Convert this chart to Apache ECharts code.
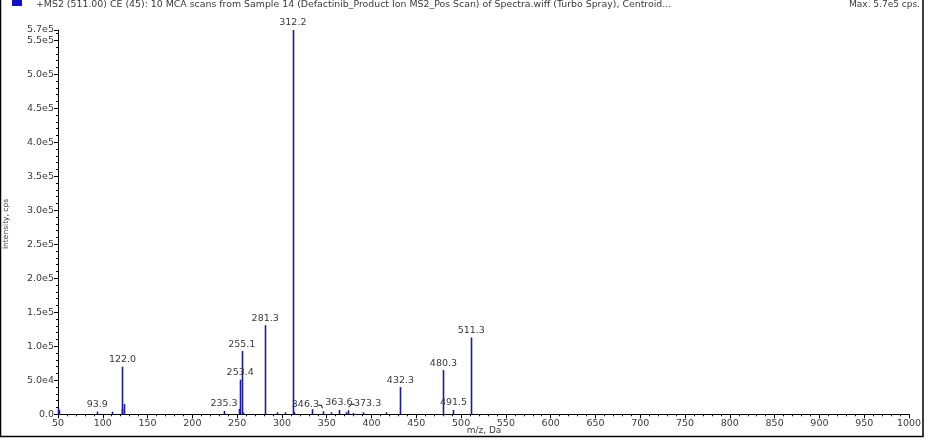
<!DOCTYPE html>
<html>
<head>
<meta charset="utf-8">
<script src="https://cdn.jsdelivr.net/npm/echarts@6/dist/echarts.min.js"></script>
<style>
html,body{margin:0;padding:0;background:#fff;}
#c{width:940px;height:448px;}
</style>
</head>
<body>
<div id="c"></div>
<script>
// ---- data ----
const titleText = '+MS2 (511.00) CE (45): 10 MCA scans from Sample 14 (Defactinib_Product Ion MS2_Pos Scan) of Spectra.wiff (Turbo Spray), Centroid...';
const maxText = 'Max. 5.7e5 cps.';
const xName = 'm/z, Da';
const yName = 'Intensity, cps';
const xMin = 50, xMax = 1000, xStep = 50;
const yMin = 0, yMax = 565000, yStep = 50000;

// peak m/z and intensity (cps)
const peakMz = [50.5, 51.5, 93.9, 110.0, 121.0, 122.0, 123.7, 235.3, 251.5, 253.4, 255.1, 256.8,
  281.3, 294.0, 303.5, 312.2, 314.0, 333.2, 346.3, 354.8, 363.6, 371.5, 373.3, 379.0, 390.0,
  416.2, 432.3, 480.3, 491.5, 511.3];
const peakInt = [9000, 6000, 4000, 4000, 8000, 70000, 15000, 5000, 8000, 51000, 93000, 2500,
  131000, 3000, 3000, 565000, 3000, 7500, 4500, 3000, 6500, 3000, 6000, 2000, 3000,
  3000, 40000, 65000, 6500, 113000];

// labelled peaks
const labelMz = [93.9, 122.0, 235.3, 253.4, 255.1, 281.3, 312.2, 346.3, 363.6, 373.3, 432.3, 480.3, 491.5, 511.3];

// ---- style / layout (not data) ----
const labelShift = {'346.3': -18, '373.3': 20};
const barColor = '#1a1aa6';
const textColor = '#3a3a3a';
const fontFam = '"DejaVu Sans", Verdana, sans-serif';

const peakData = peakMz.map((m, i) => [m, peakInt[i]]);
const labelData = labelMz.map(m => [m, peakInt[peakMz.indexOf(m)]]);

function fmtY(v) {
  if (v === 0) return '0.0';
  return v.toExponential(1).replace('+', '');
}

const chart = echarts.init(document.getElementById('c'), null, {renderer: 'canvas'});
chart.setOption({
  animation: false,
  backgroundColor: '#fff',
  grid: {left: 58, right: 31, top: 30, bottom: 33.7, containLabel: false},
  xAxis: {
    type: 'value', min: xMin, max: xMax, interval: xStep,
    axisLine: {show: true, onZero: false, lineStyle: {color: '#000', width: 1}},
    axisTick: {show: true, length: 4, lineStyle: {color: '#000'}},
    minorTick: {show: true, splitNumber: 5, length: 2, lineStyle: {color: '#000'}},
    splitLine: {show: false},
    axisLabel: {color: textColor, fontSize: 9.5, fontFamily: fontFam, margin: 4, formatter: v => String(v)}
  },
  yAxis: {
    type: 'value', min: yMin, max: yMax, interval: yStep,
    axisLine: {show: true, lineStyle: {color: '#000', width: 1}},
    axisTick: {show: true, length: 4, lineStyle: {color: '#000'}},
    minorTick: {show: true, splitNumber: 5, length: 2, lineStyle: {color: '#000'}},
    splitLine: {show: false},
    axisLabel: {color: textColor, fontSize: 9.5, fontFamily: fontFam, margin: 4, formatter: fmtY}
  },
  series: [
    {
      type: 'custom',
      data: peakData,
      renderItem: function (params, api) {
        const x = api.value(0), y = api.value(1);
        const p0 = api.coord([x, 0]);
        const p1 = api.coord([x, y]);
        const px = Math.round(p0[0]) + 0.5;
        return {
          type: 'line',
          shape: {x1: px, y1: p0[1], x2: px, y2: p1[1]},
          style: {stroke: barColor, lineWidth: 1.6}
        };
      }
    },
    {
      type: 'custom',
      data: labelData,
      renderItem: function (params, api) {
        const x = api.value(0), y = api.value(1);
        const txt = labelMz[params.dataIndex].toFixed(1);
        const p = api.coord([x, y]);
        const dx = labelShift[txt] || 0;
        const children = [{
          type: 'text',
          x: p[0] + dx, y: p[1] - 2,
          style: {text: txt, fill: textColor, fontSize: 9.5, fontFamily: fontFam,
                  align: 'center', verticalAlign: 'bottom'}
        }];
        if (dx !== 0) {
          const edge = p[0] + dx + (dx < 0 ? 13 : -13);
          children.push({
            type: 'polyline',
            shape: {points: [[edge, p[1] - 6], [edge + (dx < 0 ? 3 : -3), p[1] - 6], [p[0] + (dx < 0 ? -1 : 1), p[1] - 3]]},
            style: {stroke: '#000', lineWidth: 1, fill: null}
          });
        }
        return {type: 'group', children: children};
      }
    }
  ],
  graphic: [
    {type: 'rect', shape: {x: 0.5, y: -2, width: 922.5, height: 438.5},
     style: {fill: null, stroke: '#000', lineWidth: 1.5}, silent: true},
    {type: 'rect', shape: {x: 12, y: 0, width: 10, height: 6}, style: {fill: '#1010c8'}},
    {type: 'text', x: 36, y: 4.5, style: {text: titleText, fill: textColor, fontSize: 9.4, fontFamily: fontFam, verticalAlign: 'middle'}},
    {type: 'text', x: 920, y: 4.5, style: {text: maxText, fill: textColor, fontSize: 9, fontFamily: fontFam, align: 'right', verticalAlign: 'middle'}},
    {type: 'text', x: 484, y: 431, style: {text: xName, fill: textColor, fontSize: 9, fontFamily: fontFam, align: 'center', verticalAlign: 'middle'}},
    {type: 'text', x: 6, y: 224, rotation: Math.PI / 2, style: {text: yName, fill: textColor, fontSize: 7.5, fontFamily: fontFam, align: 'center', verticalAlign: 'middle'}}
  ]
});
</script>
</body>
</html>
